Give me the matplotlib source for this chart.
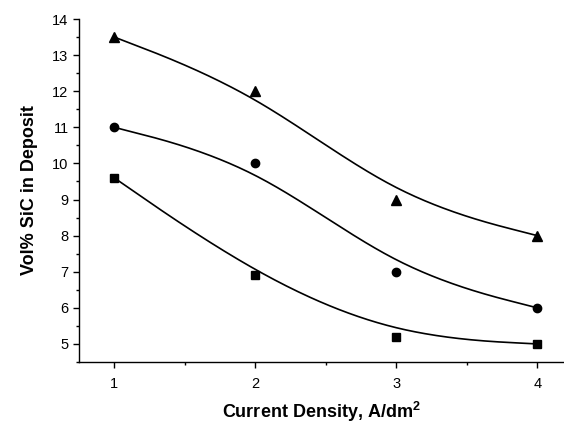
import numpy as np
import matplotlib
matplotlib.use("Agg")
import matplotlib.pyplot as plt
from matplotlib.ticker import MultipleLocator

plt.rcParams['font.family'] = ['Liberation Sans', 'DejaVu Sans']
plt.rcParams['mathtext.fontset'] = 'custom'
plt.rcParams['mathtext.rm'] = 'Liberation Sans'
plt.rcParams['mathtext.bf'] = 'Liberation Sans:bold'

# data
current_density = [1, 2, 3, 4]
sic_triangle = [13.5, 12.0, 9.0, 8.0]
sic_circle = [11.0, 10.0, 7.0, 6.0]
sic_square = [9.6, 6.9, 5.2, 5.0]


def bspline(xs, ys, n=60):
    """Uniform cubic B-spline with the end points tripled (Origin style)."""
    px = np.r_[[xs[0]] * 2, xs, [xs[-1]] * 2].astype(float)
    py = np.r_[[ys[0]] * 2, ys, [ys[-1]] * 2].astype(float)
    t = np.linspace(0, 1, n)
    b = np.array([(1 - t) ** 3,
                  3 * t ** 3 - 6 * t ** 2 + 4,
                  -3 * t ** 3 + 3 * t ** 2 + 3 * t + 1,
                  t ** 3]) / 6.0
    cx, cy = [], []
    for i in range(len(px) - 3):
        cx.append(b.T @ px[i:i + 4])
        cy.append(b.T @ py[i:i + 4])
    return np.concatenate(cx), np.concatenate(cy)


fig = plt.figure(figsize=(5.64, 4.26), dpi=100)
ax = fig.add_axes([79 / 564, 64 / 426, 485 / 564, 343 / 426])

for ys, mk, ms in [(sic_triangle, '^', 7), (sic_circle, 'o', 6), (sic_square, 's', 5.5)]:
    cx, cy = bspline(current_density, ys)
    ax.plot(cx, cy, color='black', lw=1.2)
    ax.plot(current_density, ys, linestyle='none', marker=mk, ms=ms,
            color='black', clip_on=False)

ax.set_xlim(0.75, 0.75 + 485 / 141)
ax.set_ylim(4.5, 14)
ax.xaxis.set_minor_locator(MultipleLocator(0.5))
ax.yaxis.set_minor_locator(MultipleLocator(0.5))
ax.set_yticks(np.arange(5, 15, 1))
ax.set_xticks(current_density)

for s in ['top', 'right']:
    ax.spines[s].set_visible(False)
for s in ['left', 'bottom']:
    ax.spines[s].set_linewidth(1.0)

ax.tick_params(which='major', direction='out', length=4.5, width=1.0,
               labelsize=10.5, pad=3)
ax.tick_params(which='minor', direction='out', length=2.5, width=1.0)
ax.tick_params(axis='x', which='major', pad=6)

ax.set_xlabel(r'Current Density, A/dm$^{\mathbf{2}}$', fontsize=13,
              fontweight='bold', labelpad=7)
ax.set_ylabel('Vol% SiC in Deposit', fontsize=13, fontweight='bold',
              labelpad=10)

fig.savefig('out.png', dpi=100)
